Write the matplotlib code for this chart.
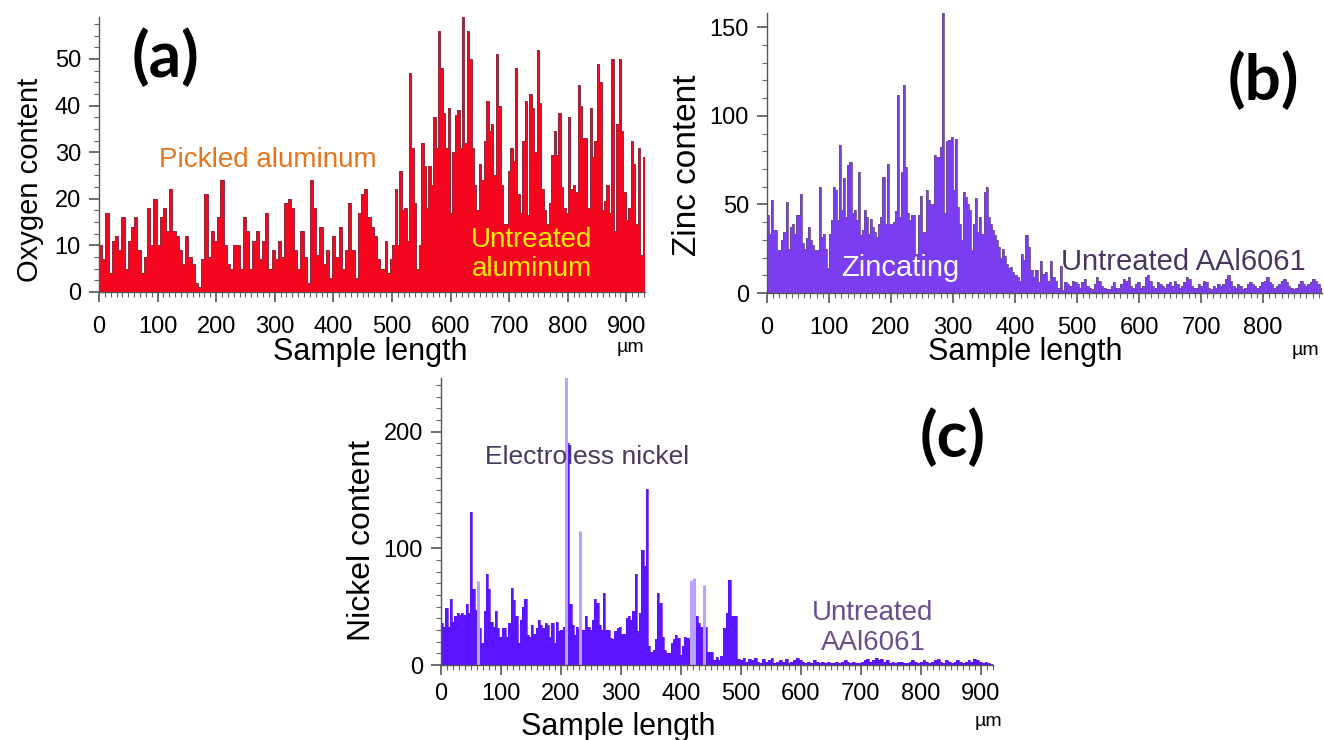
import numpy as np
import matplotlib
matplotlib.use("Agg")
import matplotlib.pyplot as plt
from matplotlib.ticker import MultipleLocator

# ---- data ----
# (a) oxygen, two stretches of the scan: pickled part and untreated part
ox_pickled_range = (0, 480)
ox_pickled = [10, 7, 17, 4, 11, 12, 9, 16, 5, 11, 14, 16, 9, 4, 7.5, 18, 10, 20, 10, 16,
              18, 13, 22, 13, 12, 9, 6, 12, 7.5, 6, 2, 1, 7, 21, 7.5, 13, 11, 16, 24, 10,
              6, 5, 10, 10, 5, 16, 13, 5, 11, 13, 7, 11, 17, 5, 9, 7, 11, 7.5, 19, 20,
              18, 9, 5, 13, 7.5, 2, 24, 18, 8, 14, 6, 9, 3, 12, 7.5, 14, 5, 9, 19, 9,
              3, 17, 21, 22, 16, 14, 12, 7]
ox_untreated_range = (480, 932)
ox_untreated = [5, 5, 11, 4, 7, 10, 22, 10, 26, 17.5, 18, 11, 47, 31, 19, 5, 10, 32, 27, 18,
                27, 23, 37.5, 31, 56, 48, 38.5, 31, 39.5, 17, 30, 38, 39, 31, 59, 32, 56, 50, 31, 23,
                17.5, 27.5, 24, 32.5, 41, 34.5, 36, 25, 51, 40, 23, 14.5, 14.5, 26, 31, 28, 48, 21, 17, 32.5,
                41, 16.5, 42.5, 39.5, 30, 52, 40.5, 22, 17.5, 14.5, 19, 29.5, 34.5, 29.5, 38.5, 22.5, 18, 17, 37.5, 22,
                23, 21.5, 44.5, 40, 33, 33, 18, 39.5, 29, 32.5, 49, 45, 17.5, 19.5, 23, 17, 50, 13, 36, 50,
                34.5, 21.5, 15.5, 18, 32.5, 27.5, 14.5, 31, 8, 29]

# (b) zinc: zincated layer then bare alloy
zn_layer_range = (0, 409)
zn_layer = [44, 33.5, 52.5, 35.5, 35.5, 24, 24, 30, 34.5, 51.5, 25, 37, 39, 33.5, 44, 44, 56, 28, 25, 31,
            37, 30, 27, 24, 24, 60, 31.5, 33.5, 25, 14, 33.5, 41, 60, 58, 41, 83.5, 47, 65, 43, 72,
            74, 45, 47, 41, 68.5, 32.5, 35.5, 47, 43, 33.5, 42, 37, 34.5, 31.5, 39, 43, 65.5, 39, 73, 39,
            39, 40, 46, 112, 43, 68.5, 117.5, 71, 45, 41, 44, 44, 22, 44, 55, 34.5, 34.5, 58, 52.5, 50.5,
            50.5, 78, 77, 77, 82.5, 159, 45, 85.5, 86.5, 88, 58, 87, 48.5, 39, 30, 57, 54, 50.5, 47, 24,
            39, 53.5, 34.5, 43, 33.5, 57, 60, 43, 39, 35.5, 32.5, 30, 26, 19.5, 25, 21, 16.5, 14, 14.5, 12,
            10, 9, 7]
zn_base_range = (409, 895)
zn_base = [22, 18.5, 33, 26, 13, 9, 13, 6, 18, 11, 12, 7, 18, 9, 7, 3, 15, 1.5,
           6, 5, 4, 7, 6, 5, 3, 6, 8, 4, 3, 2, 5, 9, 7, 4, 3, 2, 2, 4, 6, 3,
           3, 5, 8, 7, 9, 4, 3, 5, 6, 3, 4, 9, 10, 7, 4, 3, 6, 5, 4, 3,
           5, 6, 4, 7, 5, 3, 4, 6, 9, 8, 4, 3, 3, 5, 4, 7, 6, 3, 2, 4,
           3, 5, 4, 5, 8, 10, 7, 4, 3, 5, 4, 2, 3, 5, 6, 5, 4, 3, 4, 6,
           7, 9, 6, 5, 3, 4, 5, 7, 8, 6, 4, 3, 2, 3, 5, 7, 5, 4, 5, 6,
           8, 7, 5, 3]

# (c) nickel: electroless layer then bare alloy
ni_layer_range = (0, 465)
ni_layer = [36, 33, 49, 33, 57, 37, 42, 45, 43, 45, 43, 52, 45, 131, 65, 47, 32, 32, 19, 46,
            78, 65, 37, 33, 46, 32, 24, 32, 32, 24, 36, 66, 56, 42, 19, 39, 50, 57, 26, 24,
            34, 27, 32, 39, 34, 32, 36, 34, 24, 36, 19, 37, 29, 30, 33, 50, 190, 52, 34, 26,
            33, 30, 30, 30, 42, 33, 30, 39, 57, 53, 34, 30, 62, 30, 30, 23, 22, 29, 32, 33,
            27, 27, 40, 42, 39, 46, 78, 29, 45, 99, 85, 151, 16, 11, 13, 22, 62, 53, 24, 13,
            10, 10, 19, 22, 26, 23, 9, 16, 24, 23, 22, 23, 23, 42, 36, 33, 33, 33, 11, 11,
            11, 4, 7, 4]
ni_base_range = (465, 920)
ni_base = [8, 32, 45, 73, 42, 42, 5, 4, 6, 3, 5, 4, 6, 3, 2, 5, 3, 4, 6, 2,
           3, 4, 3, 5, 2, 3, 4, 6, 4, 3, 2, 3, 2, 4, 3, 2, 3, 2, 3, 2,
           2, 3, 2, 3, 4, 3, 2, 3, 2, 2, 3, 4, 5, 3, 4, 6, 4, 5, 3, 4,
           2, 3, 2, 3, 3, 2, 2, 3, 4, 3, 2, 3, 4, 3, 2, 3, 4, 5, 3, 2,
           4, 3, 2, 3, 4, 3, 2, 3, 4, 3, 5, 4, 3, 2, 3, 2, 1]
# faint (lighter) peaks on top of the nickel profile: position in um, height
ni_peak_pos = [61.6, 208.8, 231, 417, 421, 439]
ni_peak_val = [72, 247, 115, 73, 75, 69]

W, H = 1324, 740
fig = plt.figure(figsize=(W / 100, H / 100), dpi=100)

tick_font = ['Liberation Sans', 'DejaVu Sans']
text_font = ['Liberation Sans', 'DejaVu Sans']


def fx(px):
    return px / W


def fy(py):
    return 1 - py / H


def profile(ax, segs, fill, edge, lw):
    # join the stretches into one stepped profile
    edges = [segs[0][0][0]]
    vals = []
    for (lo, hi), v in segs:
        edges += list(np.linspace(lo, hi, len(v) + 1)[1:])
        vals += list(v)
    ax.stairs(vals, edges, fill=True, color=fill, lw=0)
    ax.stairs(vals, edges, color=edge, lw=lw)


def style(ax, xmax, ymax, ymaj, ymin):
    ax.set_xlim(0, xmax)
    ax.set_ylim(0, ymax)
    for s in ['top', 'right']:
        ax.spines[s].set_visible(False)
    for s in ['left', 'bottom']:
        ax.spines[s].set_color('#555555')
        ax.spines[s].set_linewidth(1.0)
    ax.xaxis.set_major_locator(MultipleLocator(100))
    ax.xaxis.set_minor_locator(MultipleLocator(10))
    ax.yaxis.set_major_locator(MultipleLocator(ymaj))
    ax.yaxis.set_minor_locator(MultipleLocator(ymin))
    ax.tick_params(which='major', length=7, width=1.2, color='#555555', pad=6)
    ax.tick_params(which='minor', length=3.5, width=0.8, color='#666666')
    ax.tick_params(axis='x', which='major', pad=10)
    ax.set_facecolor('none')


# (a) oxygen
ax_a = fig.add_axes([fx(99), fy(292), fx(645) - fx(99), (292 - 17) / H])
profile(ax_a, [(ox_pickled_range, ox_pickled), (ox_untreated_range, ox_untreated)],
        '#f4061f', '#8e2a3c', 0.7)
style(ax_a, 932, 59, 10, 2.5)
ax_a.set_xticks(range(0, 901, 100))

# (b) zinc
ax_b = fig.add_axes([fx(767), fy(293), fx(1322) - fx(767), (293 - 13) / H])
profile(ax_b, [(zn_layer_range, zn_layer), (zn_base_range, zn_base)],
        '#7b3df0', '#6a4d8c', 0.6)
style(ax_b, 895, 158, 50, 10)
ax_b.set_xticks(range(0, 801, 100))

# (c) nickel
ax_c = fig.add_axes([fx(441), fy(665), fx(993) - fx(441), (665 - 378) / H])
ax_c.vlines(ni_peak_pos, 0, ni_peak_val, color='#b9a3ff', lw=2.2)
profile(ax_c, [(ni_layer_range, ni_layer), (ni_base_range, ni_base)],
        '#5b14ff', '#5b14ff', 0.5)
style(ax_c, 920, 246, 100, 10)
ax_c.set_xticks(range(0, 901, 100))
ax_c.tick_params(axis='x', which='major', pad=6)

for ax in (ax_a, ax_b, ax_c):
    for lab in ax.get_xticklabels() + ax.get_yticklabels():
        lab.set_family(tick_font)
        lab.set_fontsize(17)

# axis titles
fig.text(fx(30), fy(180), 'Oxygen content', rotation=90, ha='center', va='center',
         fontsize=21, family=text_font)
fig.text(fx(688), fy(165), 'Zinc content', rotation=90, ha='center', va='center',
         fontsize=24, family=text_font)
fig.text(fx(362), fy(540), 'Nickel content', rotation=90, ha='center', va='center',
         fontsize=23, family=text_font)
for x0, y0 in [(370, 352), (1025, 352), (618, 727)]:
    fig.text(fx(x0), fy(y0), 'Sample length', ha='center', va='center',
             fontsize=22, family=text_font)
for x0, y0 in [(630, 347), (1305, 350), (988, 722)]:
    fig.text(fx(x0), fy(y0), 'µm', ha='center', va='center', fontsize=14, family=text_font)

# annotations
fig.text(fx(268), fy(160), 'Pickled aluminum', ha='center', va='center',
         fontsize=20, color='#e8731a', family=text_font)
fig.text(fx(532), fy(255), 'Untreated\naluminum', ha='center', va='center',
         fontsize=20, color='#ffee00', family=text_font, linespacing=1.15)
fig.text(fx(900), fy(268), 'Zincating', ha='center', va='center',
         fontsize=21, color='white', family=text_font)
fig.text(fx(1183), fy(262), 'Untreated AAl6061', ha='center', va='center',
         fontsize=21, color='#4a3560', family=text_font)
fig.text(fx(587), fy(457), 'Electroless nickel', ha='center', va='center',
         fontsize=19, color='#4a3a60', family=text_font)
fig.text(fx(873), fy(628), 'Untreated\nAAl6061', ha='center', va='center',
         fontsize=20, color='#6a4f8f', family=text_font, linespacing=1.15)

# panel letters
for lab, x0, y0 in [('(a)', 165, 57), ('(b)', 1263, 80), ('(c)', 953, 437)]:
    fig.text(fx(x0), fy(y0), lab, ha='center', va='center', fontsize=46,
             fontweight='bold', family=['Lato', 'DejaVu Sans'])

fig.savefig('out.png', dpi=100)
